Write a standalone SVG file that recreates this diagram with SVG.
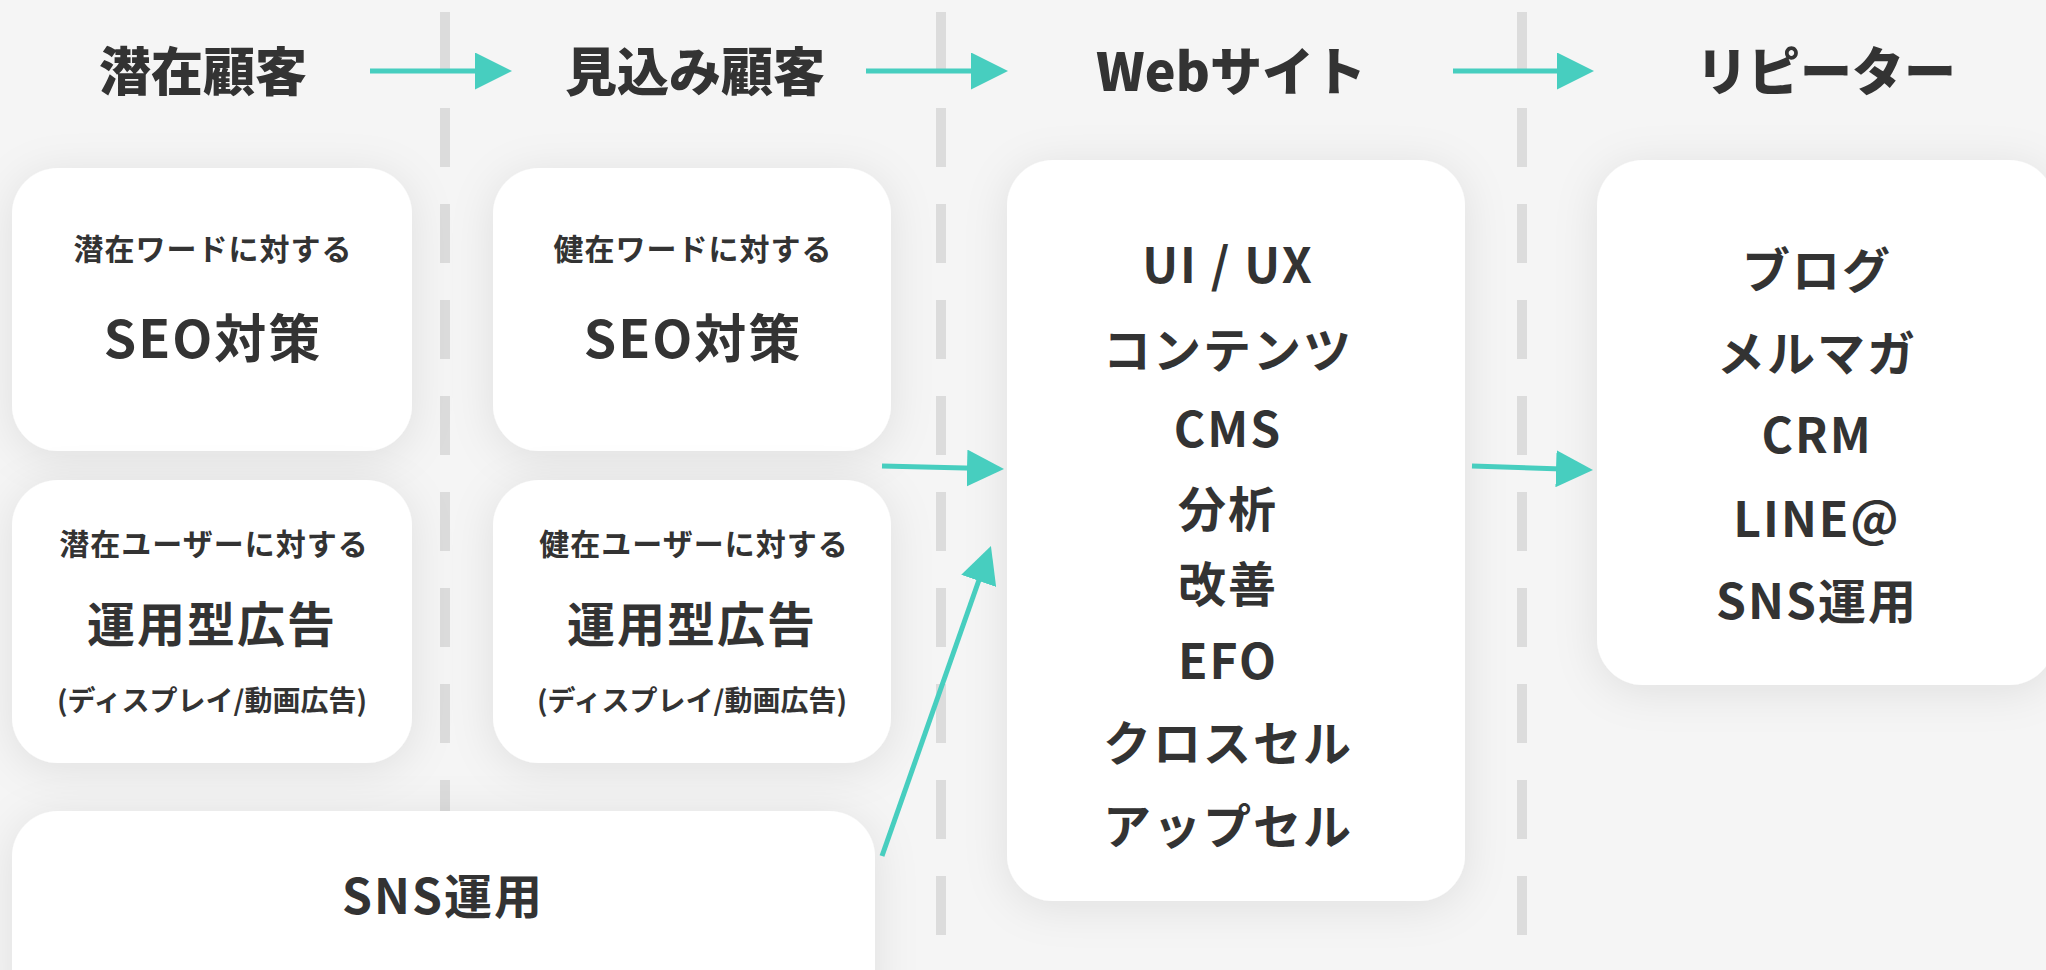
<svg xmlns="http://www.w3.org/2000/svg" width="2046" height="970" viewBox="0 0 2046 970">
<defs>
<style>
.t{font-family:"Noto Sans CJK JP","Noto Sans",sans-serif;font-weight:700;fill:#333;text-anchor:middle}
.h{font-size:52px;font-weight:900}
.s{font-size:30px;letter-spacing:1px}
.m{font-size:52px;letter-spacing:2px}
.m2{font-size:48px;letter-spacing:2px}
.p{font-size:28px}
.l{font-size:48px;letter-spacing:2px}
.box{fill:#fff;filter:url(#sh)}
.dash{stroke:#dcdcdc;stroke-width:10;stroke-dasharray:59 37;fill:none}
.arr{stroke:#47cebf;stroke-width:5;fill:none;marker-end:url(#ah)}
</style>
<filter id="sh" x="-30%" y="-30%" width="160%" height="160%">
<feDropShadow dx="0" dy="6" stdDeviation="22" flood-color="#000" flood-opacity="0.09"/>
</filter>
<marker id="ah" markerUnits="userSpaceOnUse" markerWidth="37" markerHeight="37" refX="29" refY="18.5" orient="auto">
<path d="M0,0 L37,18.5 L0,37 Z" fill="#47cebf"/>
</marker>
</defs>
<rect x="0" y="0" width="2046" height="970" fill="#f5f5f5"/>
<g id="dividers">
<line class="dash" x1="445" y1="12" x2="445" y2="970"/>
<line class="dash" x1="941" y1="12" x2="941" y2="970"/>
<line class="dash" x1="1522" y1="12" x2="1522" y2="970"/>
</g>
<g id="headers">
<text class="t h" x="203" y="91">潜在顧客</text>
<text class="t h" x="695" y="91">見込み顧客</text>
<text class="t h" x="1231" y="91">Webサイト</text>
<text class="t h" x="1826" y="91">リピーター</text>
</g>
<g id="box-seo1">
<rect class="box" x="12" y="168" width="400" height="283" rx="46"/>
<text class="t s" x="213" y="260">潜在ワードに対する</text>
<text class="t m" x="213" y="358">SEO対策</text>
</g>
<g id="box-seo2">
<rect class="box" x="493" y="168" width="398" height="283" rx="46"/>
<text class="t s" x="693" y="260">健在ワードに対する</text>
<text class="t m" x="693" y="358">SEO対策</text>
</g>
<g id="box-ad1">
<rect class="box" x="12" y="480" width="400" height="283" rx="46"/>
<text class="t s" x="214" y="555">潜在ユーザーに対する</text>
<text class="t m2" x="212" y="642">運用型広告</text>
<text class="t p" x="212" y="711">(ディスプレイ/動画広告)</text>
</g>
<g id="box-ad2">
<rect class="box" x="493" y="480" width="398" height="283" rx="46"/>
<text class="t s" x="694" y="555">健在ユーザーに対する</text>
<text class="t m2" x="692" y="642">運用型広告</text>
<text class="t p" x="692" y="711">(ディスプレイ/動画広告)</text>
</g>
<g id="box-sns">
<rect class="box" x="12" y="811" width="863" height="220" rx="46"/>
<text class="t m2" x="443" y="914">SNS運用</text>
</g>
<g id="box-web">
<rect class="box" x="1007" y="160" width="458" height="741" rx="46"/>
<text class="t l" x="1228" y="283">UI / UX</text>
<text class="t l" x="1228" y="368">コンテンツ</text>
<text class="t l" x="1228" y="447">CMS</text>
<text class="t l" x="1228" y="527">分析</text>
<text class="t l" x="1228" y="602">改善</text>
<text class="t l" x="1228" y="679">EFO</text>
<text class="t l" x="1228" y="761">クロスセル</text>
<text class="t l" x="1228" y="844">アップセル</text>
</g>
<g id="box-repeater">
<rect class="box" x="1597" y="160" width="458" height="525" rx="46"/>
<text class="t l" x="1817" y="288">ブログ</text>
<text class="t l" x="1817" y="371">メルマガ</text>
<text class="t l" x="1817" y="453">CRM</text>
<text class="t l" x="1817" y="537">LINE@</text>
<text class="t l" x="1817" y="619">SNS運用</text>
</g>
<g id="connectors">
<line class="arr" x1="370" y1="71" x2="504" y2="71"/>
<line class="arr" x1="866" y1="71" x2="1000" y2="71"/>
<line class="arr" x1="1453" y1="71" x2="1586" y2="71"/>
<line class="arr" x1="882" y1="466" x2="996" y2="468.8"/>
<line class="arr" x1="1472" y1="466" x2="1585" y2="469.7"/>
<line class="arr" x1="882" y1="856" x2="988.3" y2="553.5"/>
</g>
</svg>
